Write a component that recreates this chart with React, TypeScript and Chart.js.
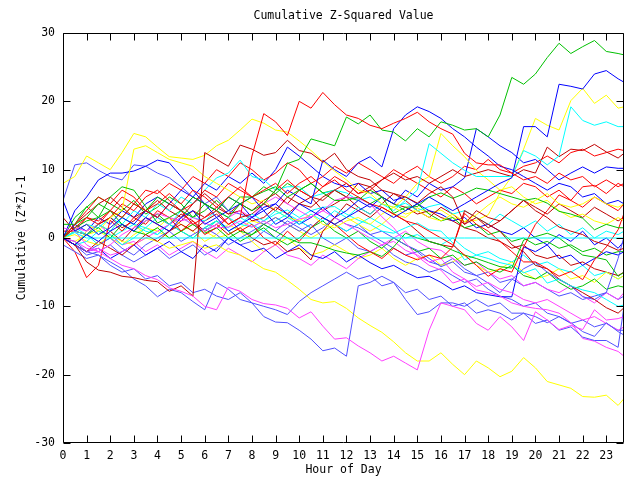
import React, { useEffect, useRef } from "react";
import { Chart, registerables } from "chart.js";

Chart.register(...registerables);

const TITLE = "Cumulative Z-Squared Value";
const X_TITLE = "Hour of Day";
const Y_TITLE = "Cumulative (Z*Z)-1";

const HOURS = [
  0, 0.5, 1, 1.5, 2, 2.5, 3, 3.5, 4, 4.5, 5, 5.5, 6, 6.5, 7, 7.5,
  8, 8.5, 9, 9.5, 10, 10.5, 11, 11.5, 12, 12.5, 13, 13.5, 14, 14.5, 15, 15.5,
  16, 16.5, 17, 17.5, 18, 18.5, 19, 19.5, 20, 20.5, 21, 21.5, 22, 22.5, 23, 23.5, 23.75,
];
const X_TICKS = [0, 1, 2, 3, 4, 5, 6, 7, 8, 9, 10, 11, 12, 13, 14, 15, 16, 17, 18, 19, 20, 21, 22, 23];
const Y_TICKS = [-30, -20, -10, 0, 10, 20, 30];

const RED_1 = [0, 1.5, 3, 2, 4, 3, 5, 4, 3, 5, 4, 2, 3, 4, 2, 3,
  12, 18.2, 17, 15, 20, 19, 21.3, 19.5, 18, 17.5, 16.5, 16, 16.8, 17.5, 18.4, 17,
  16, 15.2, 12.4, 11, 10.7, 10.7, 9.5, 8.5, 9, 8, 9.5, 8.5, 9, 7.5, 8.5, 7.5, 8];
const RED_2 = [0, 2, 4, 6, 5, 7, 6, 4, 5, 6.5, 5, 7, 6, 4.5, 6, 7.5,
  6, 7, 8, 6.5, 8, 9, 7.5, 8.5, 7, 6, 5, 4.5, 3.5, 2.5, 2, 1,
  0, -1, -2.5, -4, -5.6, -4.5, -5, -1.3, 2, 4, 6.3, 5.5, 7.5, 7.7, 6.5, 8, 7.5];
const RED_3 = [0, -2, -5.8, -4, 2.6, 1, 3, 2, 4, 3, 1, 2.5, 0.5, 1.5, 3, 1,
  2, 0, -1, 1, -0.5, 1.5, 3, 2, 0.5, -1, -2, -3, -1.5, -2.5, -3.2, -2.5,
  -3, -1.3, 3.6, 2, 1, -0.5, -2, -3.5, -3.5, -4.5, -5.6, -4.9, -6.1, -3.2, -1.3, 1.2, 3.6];
const RED_4 = [1, 1, 0.5, 2, 3, 5, 4, 6, 7, 5.5, 4, 5, 7, 6, 8, 7,
  6, 5, 7, 8.5, 7, 6, 7.5, 9, 8, 6.5, 7, 8.5, 10, 9, 8, 7,
  6, 7.5, 6.5, 5, 6, 7, 6.5, 8, 7.5, 6, 7, 5.5, 4.5, 6, 5, 4, 5];
const RED_5 = [0, 1, 3, 2.5, 4, 6, 5, 7, 6.5, 8, 7, 9, 8, 10, 9, 11,
  10, 8.5, 9.5, 11, 10, 8, 9, 10.5, 9.5, 11, 10, 9, 8, 9.5, 10.5, 9,
  8, 9, 10.5, 10, 11.5, 10, 9.5, 10.5, 11, 12, 11, 12.5, 13, 12, 12.5, 13, 12.8];

const GREEN_1 = [0, 1.5, 2.5, 3, 4, 3, 5, 4, 6, 5, 4, 6, 5, 4, 3, 5,
  4, 5, 7, 10.9, 11.5, 14.5, 14, 13.5, 17.7, 16.7, 18, 15.8, 15.5, 14.2, 16, 14.8,
  17, 16.5, 15.8, 16, 14.8, 18, 23.5, 22.5, 24, 26.4, 28.5, 27, 28, 28.9, 27.3, 27, 26.8];
const GREEN_2 = [2, 2, 4.6, 3, 6, 7.5, 7, 4.6, 2.2, 3, 4, 3, 5, 4, 6, 5,
  6, 6.8, 7.5, 6, 7, 8, 6.6, 5.5, 5.5, 6, 5, 6, 3.6, 4.5, 4.6, 6,
  6.6, 5.8, 6.5, 7.3, 7, 6.5, 6, 5.5, 5.8, 5.1, 3.9, 3.5, 2.9, 1.2, 2, 1.5, 1.5];
const GREEN_3 = [0, -1, 0.5, 1.5, 0, 2, 1, 0.5, 1.5, 0, 1, 2, 0.7, 1.5, 0, 1,
  0.5, 2, 1, 0, -0.7, -0.7, -1.2, -1.8, -2.2, -2.5, -2, -2.7, -1.3, 0.7, 0, -0.5,
  -1, -1.8, -2.5, -3, -3.6, -4.2, -4.4, -0.3, 0.2, 0.7, 0, -1.3, -2.5, -2.8, -3.2, -5.6, -5];
const GREEN_4 = [0, 2, 3, 5, 4, 2, 1, 2.5, 3.5, 2, 1, 0, 1.5, 2.5, 1, -0.5,
  0.5, 1.5, 0, -1, 0, 1.5, 2.5, 1, 0, 1, -0.5, -1.5, 0, -1, -2, -1.5,
  -3, -2.5, -4, -3.5, -4.5, -5, -4, -5.5, -6, -5, -6.5, -7.5, -7, -6, -7.5, -7, -7.2];
const GREEN_5 = [0, 3, 4.5, 6, 5, 4, 5.5, 3.5, 4.5, 6, 5, 3, 4, 5.5, 4, 6,
  6, 7.5, 6.5, 8, 7, 8, 6.6, 7, 6, 5.5, 7, 6, 5, 4, 5, 3.5,
  2.5, 3, 1.5, 2, 0.5, 1, -0.5, 0, -1, -0.5, -1.5, -1, -2, -1.5, -2.5, -2, -2];

const BLUE_1 = [0, -1, 0.5, -0.5, 1, 2, 1, 3, 2, 1, 3, 4, 2, 3, 1, 2,
  3, 4, 2, 3, 5, 4, 3, 2, 3, 4, 5, 4, 3, 4, 5, 6,
  5, 4, 5, 6, 7, 8, 8.8, 16.3, 16.3, 14.8, 22.5, 22.2, 21.8, 24, 24.5, 23.3, 22.8];
const BLUE_2 = [5.5, 1, 2, 0.5, 1.5, 3, 2, 4, 3, 5, 4, 6, 5, 3, 4, 5,
  6, 4, 5, 7, 6, 5, 11.4, 10, 9, 11, 11.9, 10.4, 16, 18, 19.2, 18.5,
  17.5, 16, 14.8, 13.3, 12, 10.5, 10, 9, 8, 7, 8, 7.5, 6, 6.5, 5, 5.5, 5];
const BLUE_3 = [0, 4, 6, 8.5, 9.5, 9.5, 9.8, 10.5, 11.4, 11, 9, 7, 5, 4, 6, 5,
  3, 4.5, 5, 3.5, 2, 3, 4.5, 3, 4, 5.5, 4.5, 6, 5, 7, 6, 8,
  7, 7.5, 8.8, 16, 14.8, 13.5, 12.5, 11, 11.5, 10, 8.5, 9.5, 10.4, 9.5, 10.4, 10.2, 10.2];
const BLUE_4 = [0, -1, -2, -1.5, -3, -2, -1, -2.5, -1.5, -0.5, -2, -3, -1, -2, 0, -1,
  -2, -1.5, -3, -2, -1, -2.5, -3, -2, -3.5, -2.5, -3.6, -4.5, -4, -5, -5.8, -5.6,
  -6.5, -7.6, -7, -8, -8.3, -8.6, -8.6, -1.3, -2, -1, -3, -2.5, -4, -3, -2, -2.5, -2];
const BLUE_5 = [0, 2, 1, 3, 2, 4, 3, 5, 6, 5, 7, 6, 8, 7, 9, 8,
  9.5, 8, 10, 13.3, 12, 10.5, 9, 8, 7.5, 8, 6.5, 7, 5.5, 6, 5, 4,
  3.5, 2.5, 3, 1.5, 2, 1, 0.5, 1.5, 0, -1, 0.5, -0.5, 1, -1, 0, -1.5, -0.5];

const MAGENTA_1 = [0, -0.5, -1.5, -2, -3, -4, -4.5, -5.5, -6.1, -7.3, -7.8, -8.5, -10, -10.5, -7.2, -7.8,
  -9, -9.6, -9.8, -10.3, -11.7, -10.8, -12.9, -14.8, -14.6, -15.8, -16.8, -18, -17.3, -18.3, -19.3, -13.5,
  -9.5, -10, -10.5, -12.5, -13.5, -11.5, -13, -15, -10.8, -12, -13.4, -12.8, -13.4, -10.5, -12, -11.8, -11.5];
const MAGENTA_2 = [1.5, 1, -1, -2, -1, 0.5, 1.5, 2.5, 3.6, 3, 2.5, 3, 2.2, 1.5, 1.6, 2.5,
  1.6, 2.5, 1.5, 2, 2.8, 3.1, 4, 5.5, 6, 5.8, 5, 3.1, 1.5, -0.7, -2.7, -4,
  -4.7, -6.6, -6, -7.6, -8, -8.5, -9.5, -10, -10.3, -10.5, -11, -12.4, -14.7, -15.1, -16, -16.6, -17.3];
const MAGENTA_3 = [0, -1, -2, -1.5, -2.5, -2, -1, 0, 1, 2, 3, 2, 1, 2, 3, 4,
  3, 5, 6, 5, 4, 3, 4, 3, 2, 1, 0, -1, -0.5, -1.8, -2.5, -3.5,
  -3, -5, -6, -7.1, -6.5, -7.5, -8, -9, -9.5, -9, -10, -11, -12, -11.5, -12.5, -13.5, -13];
const MAGENTA_4 = [0, 1.5, 1, 2, 0.5, -1, -0.5, -2, -1, -2.5, -1.5, -0.5, -2, -3, -1.5, -2.5,
  -3.5, -2, -1, -2.5, -3, -4, -2.5, -3.5, -4.5, -3, -2, -1, 0, 1, -0.5, -1.5,
  -1.8, -3, -4, -3.5, -5, -6, -5.5, -7, -6.5, -7.5, -8, -7, -8.5, -9.5, -8, -9, -8];

const CYAN_1 = [0, 0.8, 0, 0, 0, 0, 0, 0, 0, 0, 0, 0, 0, 0, 0, 0,
  0, 0, 0, 0, 0, 0, 0, 0, 0, 0, 0, 0, 0, 0, 0, 0,
  0, 0, 0, 0, 0, 0, 0, 0, 0, 0, 0, 0, 0, 0, 0, 0, 0];
const CYAN_2 = [0, 1, 0.5, 2, 1, 3, 2, 1.5, 3, 2, 4, 3, 2.5, 4, 3, 2,
  3.5, 2.5, 4, 3, 2, 3.5, 2.5, 4, 3, 4.5, 3.5, 5, 4, 5.5, 7, 13.8,
  12.4, 11, 9.9, 9, 9, 9, 9, 12.8, 12, 10.7, 12, 19.2, 17.2, 16.5, 17, 16.3, 16.3];
const CYAN_3 = [0, -1, -0.5, 1, 0.5, -1, 0, 1.5, 0.5, 2, 1, 0, 1.5, 2.5, 1, 2,
  1.6, 2.5, 3.5, 4.1, 3, 4, 4.5, 4.6, 3.5, 2.6, 2, 1, 0.7, 1.5, 2.2, 1.2,
  1, -0.7, -3.2, -2.5, -3, -3.6, -4, -5.1, -4.5, -6.6, -6, -7, -7.6, -8, -9, -10, -9.8];
const CYAN_4 = [0, 1, 2, 1.5, 3, 2, 4, 3, 5, 4, 6, 5, 7, 8.8, 9.5, 11.4,
  9, 8.5, 7, 7.5, 7.5, 6, 6.5, 7, 6.6, 5.5, 6, 5, 4.5, 5.1, 4, 4.6,
  5, 3.5, 4, 3, 2, 3.5, 2.5, 1.5, 2.5, 1, 2, 0.5, 1.5, 0, 1, 0.5, 1];
const CYAN_5 = [0, 1.5, 0.5, -1, 0, 1, 2, 1, 0.5, 2, 3, 2, 1, 2.5, 1.5, 3,
  2, 1, 2.5, 3.5, 2.5, 1.5, 3, 2, 1, 2, 3, 2, 1, 0, 0.5, -0.5,
  -1, 0, -1.5, -2.5, -2, -3, -3.5, -2.5, -4, -3.5, -4.5, -5, -4, -5.5, -5, -6, -5.5];

const DARKRED_1 = [0, -1, -3.5, -4.7, -5, -5.6, -5.8, -6.2, -6.4, -7.8, -7, -8.5, 12.5, 11.5, 10.5, 13.6,
  13, 12.1, 12.5, 14.3, 12.8, 12.4, 11.1, 12.4, 10, 9, 8.5, 7, 6.5, 6, 5.1, 6.5,
  7.5, 6, 2, 4, 3, 2.5, 4, 5.5, 4, 3, 1.6, 1, 0.5, -0.5, -1, -1.8, -1.5];
const DARKRED_2 = [0, -1, -2, -0.5, -1.5, -2.5, -1, 0.5, -0.5, 1, 2, 1, 2.5, 3.5, 2, 3,
  3.5, 5, 4, 6, 5, 4.5, 6, 7, 6, 8, 7.5, 8.5, 9.5, 8.5, 9, 8,
  9, 10, 9, 9.5, 10, 9.5, 9, 10, 9.5, 13.3, 11.9, 13, 12.8, 13.7, 12.6, 11.7, 12.4];
const DARKRED_3 = [3, 1, 0.5, 2, 3, 1.5, 2.5, 4, 3, 2, 3.5, 2.5, 1, 2, 0.5, 1.5,
  0, -1, -0.5, -2, -1.5, -3.2, 1, 3, 5, 4, 3, 4.5, 3.5, 2.5, 1, -0.5,
  -1, -1.3, 4, 3, 2, 1, -1, -2, -4, -4.5, -6, -7, -8, -9, -10.2, -11, -10.2];
const DARKRED_4 = [0, 2, 3.5, 5, 6, 4.5, 3, 4, 5.5, 4, 3, 5, 6.5, 5, 3.5, 4,
  2.5, 3, 4.5, 3.5, 5, 6, 4, 5, 6, 4.5, 3.5, 5, 6.5, 5.5, 4, 3,
  4.5, 3.5, 2, 3, 1.5, 2.5, 4, 5.5, 4.5, 3.5, 5, 4, 3, 4.5, 3.5, 2.5, 3];
const DARKRED_5 = [0, -1, 0.5, 2, 1, -0.5, 1.5, 3, 2, 1, 2.5, 4, 3, 4.5, 3.5, 5,
  4, 5.5, 6.5, 5, 7, 6, 5.5, 7, 8, 6.5, 7.5, 6, 5, 4.5, 3.5, 4,
  3, 2.5, 1.5, 1, 0, -0.5, -1.5, -1, -2.5, -3, -2.5, -4, -3.5, -4.5, -5, -5.5, -5];

const YELLOW_1 = [8, 9, 12, 11, 10, 12.5, 15.3, 14.8, 13.3, 11.9, 11.7, 11.5, 12.1, 13.5, 14.3, 15.8,
  17.4, 16.8, 15.8, 15.5, 14.2, 12.8, 11.2, 9.8, 8.5, 7, 6.5, 5, 4.5, 3.5, 4, 3,
  2.5, 3.5, 2.4, 3.4, 4.8, 6, 5, 4.5, 5.5, 6.5, 5, 4.5, 5, 6, 5, 4.5, 5];
const YELLOW_2 = [0, 1, 2, 1, 3, 4, 13, 13.5, 12.5, 11.5, 11, 10.5, 9, 8, 7, 6,
  5, 5.5, 4, 3, 2.5, 3.5, 2, 1.5, 2.5, 3, 2, 3.5, 4.5, 6, 8, 9,
  15.3, 13.5, 11.9, 9.9, 8.5, 7, 7.5, 6, 5, 5.5, 4, 3, 3.5, 2.5, 2, 3, 2.5];
const YELLOW_3 = [0, 0.5, -0.5, -1, 0.5, -0.5, -1, 0, -0.5, -1.5, -1, -0.5, -1.5, -1, -2, -2.5,
  -3.4, -4.5, -5, -6.2, -7.5, -9, -9.5, -9.3, -10.3, -11.7, -12.8, -13.8, -15.2, -16.8, -18, -18,
  -16.8, -18.5, -20, -18, -19, -20.3, -19.5, -17.5, -19, -21, -21.5, -22, -23.2, -23.3, -23, -24.5, -23.5];
const YELLOW_4 = [0, -1, 1, 2, 1, 3, 2, 0.5, 1.5, 3, 2, 1, -0.5, 0.5, 2, 1,
  -0.5, -2, -1, 0, -1.5, -2.5, -2, -1, -2, -3, -2.5, -1.5, -3, -4, -3, -2.5,
  -4, -3.5, -2.5, -4, -5, -4.5, -3.5, -5, -6, -5.5, -4.5, -6, -5.5, -6.5, -5, -6, -5.5];
const YELLOW_5 = [0, -0.5, 0.5, 1, 0, -1, 0.5, 1.5, 1, 0, 1, 2, 1, 0, 0.5, 1.5,
  2.5, 2, 3, 2, 1, 0, 1, 2, 3, 2, 1, 2, 3.5, 3, 4.4, 3.6,
  4.1, 3, 2.4, 2.6, 3.4, 6.6, 9, 13, 17.5, 16.5, 15.8, 20.1, 21.9, 19.7, 20.9, 19, 19.2];

const SLATE_1 = [0, -1, -2, -2.5, -3.5, -4.5, -6, -7, -8.6, -7.5, -8, -9.3, -10.5, -6.5, -7.5, -9,
  -9.5, -11.5, -12.3, -12.4, -13.5, -14.8, -16.5, -16.1, -17.3, -7, -6.5, -5.6, -6.5, -9, -11.2, -10.8,
  -9.5, -9.5, -10, -9, -10, -9.5, -11, -11, -12.5, -12, -13.5, -13, -14.5, -15, -15, -16, -10];
const SLATE_2 = [-1, -2, -3, -2.5, -4, -5, -4.5, -6, -5.5, -7, -6.5, -8, -7.5, -8.5, -9, -8,
  -9.5, -10, -10.5, -11.2, -9.3, -8, -7, -6, -5, -6, -5.5, -7, -6.5, -8, -7.5, -9,
  -8.5, -10, -9.5, -11, -10.5, -11, -12, -11, -11.5, -12.4, -11.5, -12.4, -13.7, -14.4, -12.4, -13.7, -14.2];
const SLATE_3 = [0, -0.5, -2, -1, 0, -1.5, -2.5, -1, 0, 1, -0.5, 0.5, 1.5, 0.5, -1, 0,
  1, 2, 1, 2.5, 1.5, 0.5, 1.5, 3, 2, 1.5, 0.5, 1, 0, -1, -1.8, -3,
  -4.2, -3.5, -5, -5.5, -6.6, -8, -6.1, -4.5, -3.6, -5, -6.1, -7, -8.6, -9, -8, -3, 0.2];
const SLATE_4 = [5.5, 10.7, 11, 9.9, 9, 8.5, 10.7, 10.5, 9.5, 8.8, 7.5, 6, 5, 6, 4, 3.5,
  3, 2, 3, 2, 1, 2, 0, -1, 0, -1.5, -2, -1, -2.5, -3.5, -4, -5,
  -4.5, -5.5, -6.5, -6, -7.5, -8.5, -9, -10, -9.5, -11, -11.5, -12.5, -12, -13, -12.5, -13.5, -13.5];
const SLATE_5 = [0, -1, -2.5, -2, -1, -2.5, -3.5, -2.5, -1.5, -3, -2, -1, -2.5, -1.5, 0, -1,
  -0.5, 1, 0, 1.5, 2.5, 1.5, 3, 2, 1, 2, 0.5, -0.5, -1.5, -2.5, -2, -3.5,
  -4, -3, -4.5, -5.5, -5, -6.5, -6, -7, -6.5, -7.5, -8.5, -8, -9, -8.5, -8, -9, -8.5];

const RED = "#ff0000";
const GREEN = "#00c000";
const BLUE = "#0000ff";
const MAGENTA = "#ff40ff";
const CYAN = "#00ffff";
const DARKRED = "#c00000";
const YELLOW = "#ffff00";
const SLATE = "#5050ff";

const SERIES: { values: number[]; color: string }[] = [
  { values: RED_1, color: RED }, { values: GREEN_1, color: GREEN }, { values: BLUE_1, color: BLUE },
  { values: MAGENTA_1, color: MAGENTA }, { values: CYAN_1, color: CYAN }, { values: DARKRED_1, color: DARKRED },
  { values: YELLOW_1, color: YELLOW }, { values: SLATE_1, color: SLATE },
  { values: RED_2, color: RED }, { values: GREEN_2, color: GREEN }, { values: BLUE_2, color: BLUE },
  { values: MAGENTA_2, color: MAGENTA }, { values: CYAN_2, color: CYAN }, { values: DARKRED_2, color: DARKRED },
  { values: YELLOW_2, color: YELLOW }, { values: SLATE_2, color: SLATE },
  { values: RED_3, color: RED }, { values: GREEN_3, color: GREEN }, { values: BLUE_3, color: BLUE },
  { values: MAGENTA_3, color: MAGENTA }, { values: CYAN_3, color: CYAN }, { values: DARKRED_3, color: DARKRED },
  { values: YELLOW_3, color: YELLOW }, { values: SLATE_3, color: SLATE },
  { values: RED_4, color: RED }, { values: GREEN_4, color: GREEN }, { values: BLUE_4, color: BLUE },
  { values: MAGENTA_4, color: MAGENTA }, { values: CYAN_4, color: CYAN }, { values: DARKRED_4, color: DARKRED },
  { values: YELLOW_4, color: YELLOW }, { values: SLATE_4, color: SLATE },
  { values: RED_5, color: RED }, { values: GREEN_5, color: GREEN }, { values: BLUE_5, color: BLUE },
  { values: CYAN_5, color: CYAN }, { values: DARKRED_5, color: DARKRED },
  { values: YELLOW_5, color: YELLOW }, { values: SLATE_5, color: SLATE },
];

const FONT_FAMILY = '"DejaVu Sans Mono", "Liberation Mono", monospace';

const framePlugin = {
  id: "gnuframe",
  afterDatasetsDraw(chart: any) {
    const { ctx, chartArea: a, scales } = chart;
    const xs = scales.x;
    const ys = scales.y;
    const L = Math.round(a.left) + 0.5;
    const R = Math.round(a.right) - 0.5;
    const T = Math.round(a.top) + 0.5;
    const B = Math.round(a.bottom) - 0.5;
    ctx.save();
    ctx.strokeStyle = "#000000";
    ctx.lineWidth = 1;
    ctx.beginPath();
    ctx.rect(L, T, R - L, B - T);
    const tl = 7;
    for (const h of X_TICKS) {
      const px = Math.round(xs.getPixelForValue(h)) + 0.5;
      ctx.moveTo(px, B);
      ctx.lineTo(px, B - tl);
      ctx.moveTo(px, T);
      ctx.lineTo(px, T + tl);
    }
    for (const v of Y_TICKS) {
      const py = Math.round(ys.getPixelForValue(v)) + 0.5;
      ctx.moveTo(L, py);
      ctx.lineTo(L + tl, py);
      ctx.moveTo(R, py);
      ctx.lineTo(R - tl, py);
    }
    ctx.stroke();
    ctx.fillStyle = "#000000";
    ctx.font = "11.5px " + FONT_FAMILY;
    ctx.textAlign = "center";
    ctx.textBaseline = "middle";
    ctx.fillText(TITLE, (a.left + a.right) / 2, 16);
    ctx.restore();
  },
};

export default function App() {
  const canvasRef = useRef<HTMLCanvasElement | null>(null);

  useEffect(() => {
    const canvas = canvasRef.current;
    if (!canvas) return;
    const datasets = SERIES.map((s, i) => ({
      label: "day " + (i + 1),
      data: HOURS.map((h, j) => ({ x: h, y: s.values[j] })),
      borderColor: s.color,
      backgroundColor: s.color,
      borderWidth: 1,
      pointRadius: 0,
      tension: 0,
      fill: false,
    }));
    const tickFont = { family: FONT_FAMILY, size: 11.5 };
    const chart = new Chart(canvas, {
      type: "line",
      data: { datasets },
      options: {
        animation: false,
        responsive: false,
        devicePixelRatio: 1,
        layout: { padding: { top: 33, right: 16, bottom: 0, left: 0 } },
        plugins: { legend: { display: false }, tooltip: { enabled: false }, title: { display: false } },
        scales: {
          x: {
            type: "linear",
            min: 0,
            max: 23.75,
            grid: { display: false, drawTicks: false },
            border: { display: false },
            afterBuildTicks: (scale: any) => {
              scale.ticks = X_TICKS.map((v) => ({ value: v }));
            },
            afterFit: (scale: any) => {
              scale.height = 37;
            },
            ticks: {
              autoSkip: false,
              maxRotation: 0,
              padding: 6,
              color: "#000000",
              font: tickFont,
              callback: (v: any) => String(v),
            },
            title: {
              display: true,
              text: X_TITLE,
              color: "#000000",
              font: tickFont,
              padding: { top: 0, bottom: 3.5 },
            },
          },
          y: {
            type: "linear",
            min: -30,
            max: 30,
            grid: { display: false, drawTicks: false },
            border: { display: false },
            afterBuildTicks: (scale: any) => {
              scale.ticks = Y_TICKS.map((v) => ({ value: v }));
            },
            afterFit: (scale: any) => {
              scale.width = 63;
            },
            ticks: {
              padding: 8,
              color: "#000000",
              font: tickFont,
              callback: (v: any) => String(v),
            },
            title: {
              display: true,
              text: Y_TITLE,
              color: "#000000",
              font: tickFont,
              padding: { top: 15.5, bottom: 0 },
            },
          },
        },
      },
      plugins: [framePlugin],
    });
    return () => chart.destroy();
  }, []);

  return (
    <div style={{ position: "fixed", left: 0, top: 0, width: 640, height: 480, background: "#ffffff" }}>
      <canvas ref={canvasRef} width={640} height={480} style={{ width: 640, height: 480, display: "block" }} />
    </div>
  );
}
